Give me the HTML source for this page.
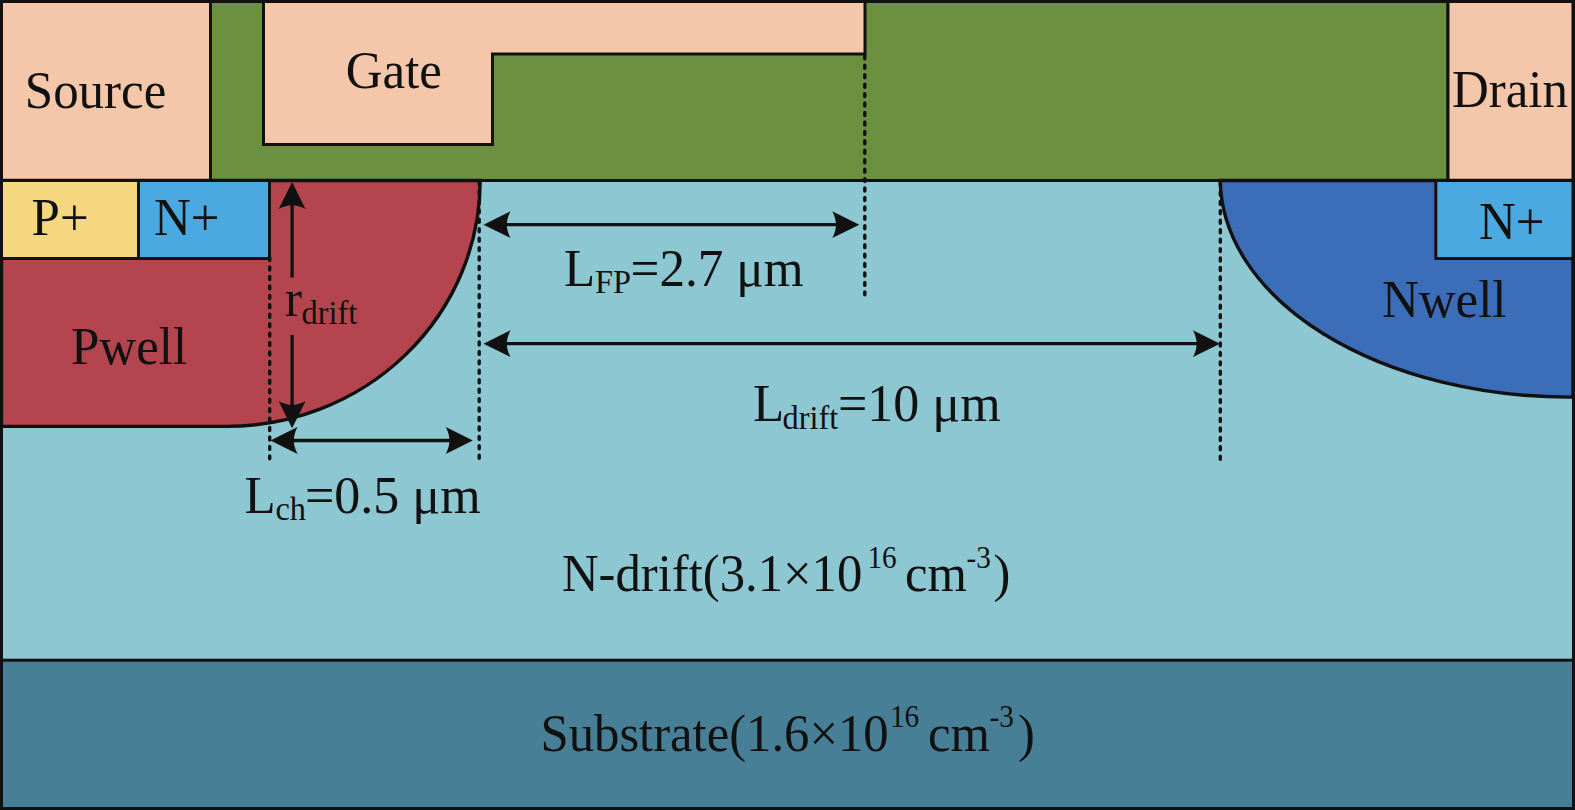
<!DOCTYPE html>
<html><head><meta charset="utf-8">
<style>
html,body{margin:0;padding:0;width:1575px;height:810px;overflow:hidden;background:#8CC7D2}
svg{display:block}
text{font-family:"Liberation Serif",serif;fill:#111111}
</style></head><body>
<svg width="1575" height="810" viewBox="0 0 1575 810">
<rect x="0" y="0" width="1575" height="810" fill="#8CC7D2"/>
<rect x="1.5" y="660.2" width="1572" height="148.3" fill="#478096" stroke="#111111" stroke-width="3"/>
<rect x="210.5" y="1.5" width="1237.5" height="179" fill="#6B9140" stroke="#111111" stroke-width="3"/>
<rect x="1.5" y="1.5" width="209" height="179" fill="#F4C6AA" stroke="#111111" stroke-width="3"/>
<rect x="1448" y="1.5" width="125" height="179" fill="#F4C6AA" stroke="#111111" stroke-width="3"/>
<path d="M263.5,1.5 H865 V54 H492.5 V144.5 H263.5 Z" fill="#F4C6AA" stroke="#111111" stroke-width="3"/>
<path d="M1.5,180.5 H480.2 A253.6,245.9 0 0 1 226.6,426.4 H1.5 Z" fill="#B4444D" stroke="#111111" stroke-width="3.4"/>
<path d="M1220.3,180.5 A348.9,218.2 0 0 0 1569.2,397.1 L1573,397.1 V180.5 Z" fill="#3C6DB9" stroke="#111111" stroke-width="3.4"/>
<rect x="1.5" y="180.5" width="137" height="78" fill="#F5D77F" stroke="#111111" stroke-width="3"/>
<rect x="138.5" y="180.5" width="131" height="78" fill="#4BA9E1" stroke="#111111" stroke-width="3"/>
<rect x="1435.8" y="180.5" width="137.2" height="78" fill="#4BA9E1" stroke="#111111" stroke-width="3"/>
<rect x="1.5" y="1.5" width="1572" height="807" fill="none" stroke="#111111" stroke-width="3"/>
<line x1="0" y1="180.5" x2="1575" y2="180.5" stroke="#111111" stroke-width="3"/>
<g stroke="#111111" stroke-width="3.4" stroke-dasharray="3.0 6.44" stroke-linecap="round" fill="none">
<line x1="269.7" y1="257.6" x2="269.7" y2="461"/>
<line x1="479.2" y1="181.5" x2="479.2" y2="461"/>
<line x1="864.8" y1="55.86" x2="864.8" y2="297"/>
<line x1="1220.3" y1="182.5" x2="1220.3" y2="461"/>
</g>
<g stroke="#111111" stroke-width="3.3">
<line x1="292.1" y1="200" x2="292.1" y2="277.5"/>
<line x1="292.1" y1="335" x2="292.1" y2="410"/>
<line x1="290" y1="440.5" x2="455" y2="440.5"/>
<line x1="500" y1="224.7" x2="842" y2="224.7"/>
<line x1="500" y1="343.7" x2="1202" y2="343.7"/>
</g>
<path d="M0,0 L-27,-13.4 Q-23.3,-6 -23.3,0 Q-23.3,6 -27,13.4 Z" fill="#111111" transform="translate(292.1,182) rotate(-90)"/>
<path d="M0,0 L-27,-13.4 Q-23.3,-6 -23.3,0 Q-23.3,6 -27,13.4 Z" fill="#111111" transform="translate(292.1,428.3) rotate(90)"/>
<path d="M0,0 L-27,-13.4 Q-23.3,-6 -23.3,0 Q-23.3,6 -27,13.4 Z" fill="#111111" transform="translate(270.5,440.5) rotate(180)"/>
<path d="M0,0 L-27,-13.4 Q-23.3,-6 -23.3,0 Q-23.3,6 -27,13.4 Z" fill="#111111" transform="translate(472.8,440.5) rotate(0)"/>
<path d="M0,0 L-27,-13.4 Q-23.3,-6 -23.3,0 Q-23.3,6 -27,13.4 Z" fill="#111111" transform="translate(483.5,224.7) rotate(180)"/>
<path d="M0,0 L-27,-13.4 Q-23.3,-6 -23.3,0 Q-23.3,6 -27,13.4 Z" fill="#111111" transform="translate(859.3,224.7) rotate(0)"/>
<path d="M0,0 L-27,-13.4 Q-23.3,-6 -23.3,0 Q-23.3,6 -27,13.4 Z" fill="#111111" transform="translate(483.5,343.7) rotate(180)"/>
<path d="M0,0 L-27,-13.4 Q-23.3,-6 -23.3,0 Q-23.3,6 -27,13.4 Z" fill="#111111" transform="translate(1220,343.7) rotate(0)"/>
<text transform="translate(24.8,107.5) scale(0.98,1)" font-size="52">Source</text>
<text transform="translate(345.8,87.7) scale(0.98,1)" font-size="52">Gate</text>
<text transform="translate(1452,107.3) scale(0.98,1)" font-size="52">Drain</text>
<text transform="translate(31.6,234.5) scale(0.98,1)" font-size="52">P+</text>
<text transform="translate(154,234.5) scale(0.98,1)" font-size="52">N+</text>
<text transform="translate(1479,238.5) scale(0.98,1)" font-size="52">N+</text>
<text transform="translate(71,363.5) scale(0.98,1)" font-size="52">Pwell</text>
<text transform="translate(1382,317) scale(0.98,1)" font-size="52">Nwell</text>
<text transform="translate(285,316) scale(0.98,1)" font-size="52">r</text>
<text transform="translate(301.5,323.5) scale(0.98,1)" font-size="33">drift</text>
<text transform="translate(564,286.3) scale(0.98,1)" font-size="52">L</text>
<text transform="translate(595,293.3) scale(0.98,1)" font-size="33">FP</text>
<text transform="translate(630.5,286.3) scale(0.985,1)" font-size="52">=2.7 μm</text>
<text transform="translate(753,420.7) scale(0.98,1)" font-size="52">L</text>
<text transform="translate(782.5,429) scale(0.98,1)" font-size="33">drift</text>
<text transform="translate(838,420.7) scale(1.0,1)" font-size="52">=10 μm</text>
<text transform="translate(244.5,512.8) scale(0.98,1)" font-size="52">L</text>
<text transform="translate(275.5,520.4) scale(0.98,1)" font-size="33">ch</text>
<text transform="translate(305,512.8) scale(1.0,1)" font-size="52">=0.5 μm</text>
<text transform="translate(562,591) scale(0.975,1)" font-size="52">N-drift(3.1×10</text>
<text transform="translate(867.5,567.5) scale(0.9,1)" font-size="32.5">16</text>
<text transform="translate(905,591) scale(0.975,1)" font-size="52">cm</text>
<text transform="translate(966.5,567.5) scale(0.9,1)" font-size="32.5">-3</text>
<text transform="translate(993.5,591) scale(0.975,1)" font-size="52">)</text>
<text transform="translate(540.5,750.5) scale(0.975,1)" font-size="52">Substrate(1.6×10</text>
<text transform="translate(890,726.5) scale(0.9,1)" font-size="32.5">16</text>
<text transform="translate(928,750.5) scale(0.975,1)" font-size="52">cm</text>
<text transform="translate(989.5,727) scale(0.9,1)" font-size="32.5">-3</text>
<text transform="translate(1018,750.5) scale(0.975,1)" font-size="52">)</text>
</svg>
</body></html>
